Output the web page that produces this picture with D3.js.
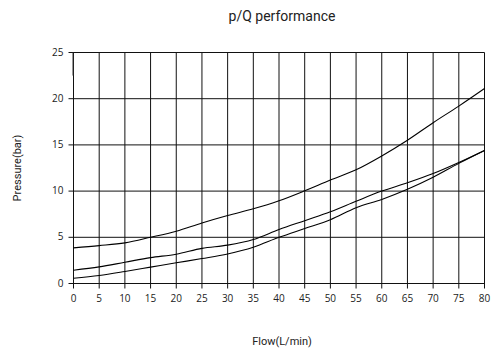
<!DOCTYPE html>
<html><head><meta charset="utf-8">
<script src="https://cdn.jsdelivr.net/npm/d3@7"></script>
<style>body{margin:0;background:#fff}svg{display:block}</style>
</head><body><svg id="c" width="494" height="352"></svg>
<script>
const flow = [0,5,10,15,20,25,30,35,40,45,50,55,60,65,70,75,80];
const curveTop = [3.86,4.1,4.4,5.0,5.66,6.55,7.36,8.08,8.95,10.03,11.2,12.3,13.8,15.5,17.4,19.2,21.1];
const curveMid = [1.44,1.8,2.3,2.8,3.17,3.8,4.15,4.76,5.84,6.8,7.76,8.9,10.0,10.9,11.9,13.1,14.4];
const curveLow = [0.57,0.87,1.3,1.77,2.24,2.7,3.2,3.93,5.0,5.95,6.9,8.2,9.1,10.2,11.5,13.0,14.4];
const xTicks = [0,5,10,15,20,25,30,35,40,45,50,55,60,65,70,75,80];
const yTicks = [0,5,10,15,20,25];
const title = "p/Q performance", xTitle = "Flow(L/min)", yTitle = "Pressure(bar)";

const svg = d3.select("#c");
const L = 73.5, R = 484.5, T = 52.5, B = 283.5;
const x = d3.scaleLinear().domain([0,80]).range([L,R]);
const y = d3.scaleLinear().domain([0,25]).range([B,T]);
const font = "Roboto, 'Open Sans', sans-serif";

// grid
svg.append("g").selectAll("line").data(xTicks).join("line")
  .attr("x1",d=>x(d)).attr("x2",d=>x(d)).attr("y1",T).attr("y2",B+5)
  .attr("stroke","#111").attr("stroke-width",1);
svg.append("g").selectAll("line").data(yTicks).join("line")
  .attr("x1",L-5).attr("x2",R).attr("y1",d=>y(d)).attr("y2",d=>y(d))
  .attr("stroke","#111").attr("stroke-width",1);
// small dark artifact on y axis
svg.append("line").attr("x1",x(0)-0.5).attr("x2",x(0)-0.5).attr("y1",y(25)).attr("y2",y(22.5))
  .attr("stroke","#333").attr("stroke-width",1);

// tick labels
svg.append("g").selectAll("text").data(xTicks).join("text")
  .attr("x",d=>x(d)).attr("y",B+18).attr("text-anchor","middle")
  .attr("font-family","'Open Sans', sans-serif").attr("font-size",10).attr("fill","#222").text(d=>d);
svg.append("g").selectAll("text").data(yTicks).join("text")
  .attr("x",L-10).attr("y",d=>y(d)+3).attr("text-anchor","end")
  .attr("font-family","'Open Sans', sans-serif").attr("font-size",10).attr("fill","#222").text(d=>d);

// curves
const line = d3.line().x(d=>x(d[0])).y(d=>y(d[1])).curve(d3.curveMonotoneX);
[curveTop,curveMid,curveLow].forEach(s=>{
  svg.append("path").attr("d",line(flow.map((f,i)=>[f,s[i]])))
    .attr("fill","none").attr("stroke","#000").attr("stroke-width",1.1);
});

// titles
svg.append("text").attr("x",282).attr("y",21).attr("text-anchor","middle")
  .attr("font-family",font).attr("font-size",14).attr("fill","#222").text(title);
svg.append("text").attr("x",282).attr("y",345).attr("text-anchor","middle")
  .attr("font-family",font).attr("font-size",11).attr("fill","#222").text(xTitle);
svg.append("text").attr("transform","translate(21,168) rotate(-90)").attr("text-anchor","middle")
  .attr("font-family",font).attr("font-size",11).attr("fill","#222").text(yTitle);
</script></body></html>
